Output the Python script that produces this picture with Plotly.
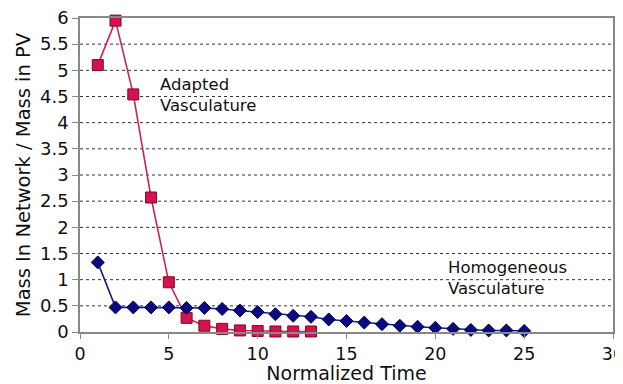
import plotly.graph_objects as go

# Data
adapted_t = [1, 2, 3, 4, 5, 6, 7, 8, 9, 10, 11, 12, 13]
adapted_v = [5.1, 5.95, 4.54, 2.57, 0.95, 0.27, 0.12, 0.06, 0.03, 0.02, 0.01, 0.01, 0.01]

homog_t = list(range(1, 26))
homog_v = [1.33, 0.47, 0.47, 0.47, 0.47, 0.46, 0.46, 0.44, 0.41, 0.38, 0.34, 0.31, 0.29,
           0.24, 0.21, 0.18, 0.15, 0.12, 0.10, 0.08, 0.06, 0.04, 0.03, 0.03, 0.02]

x_ticks = [0, 5, 10, 15, 20, 25, 30]
y_ticks = [0, 0.5, 1, 1.5, 2, 2.5, 3, 3.5, 4, 4.5, 5, 5.5, 6]
y_ticklabels = ["0", "0.5", "1", "1.5", "2", "2.5", "3", "3.5", "4", "4.5", "5", "5.5", "6"]

FONT = "DejaVu Sans, Liberation Sans, Arial, sans-serif"
TXT = "#111111"

fig = go.Figure()

# dotted gridlines (below data)
for yv in y_ticks[1:-1]:
    fig.add_shape(type="line", xref="paper", yref="y", x0=0, x1=1, y0=yv, y1=yv,
                  line=dict(color="#333333", width=1, dash="dot"), layer="below")

fig.add_trace(go.Scatter(
    x=adapted_t, y=adapted_v, mode="lines+markers",
    line=dict(color="#c8265a", width=1.6),
    marker=dict(symbol="square", size=11, color="#d3124e",
                line=dict(color="#7a0a28", width=1)),
    showlegend=False, cliponaxis=False,
))
fig.add_trace(go.Scatter(
    x=homog_t, y=homog_v, mode="lines+markers",
    line=dict(color="#1c1c86", width=1.6),
    marker=dict(symbol="diamond", size=10, color="#0a0a80",
                line=dict(color="#000050", width=1)),
    showlegend=False, cliponaxis=False,
))

fig.add_annotation(x=4.4, y=4.52, xref="x", yref="y", text="Adapted<br>Vasculature",
                   showarrow=False, xanchor="left", yanchor="middle", align="left",
                   font=dict(family=FONT, size=16.5, color=TXT))
fig.add_annotation(x=20.6, y=1.04, xref="x", yref="y", text="Homogeneous<br>Vasculature",
                   showarrow=False, xanchor="left", yanchor="middle", align="left",
                   font=dict(family=FONT, size=16.5, color=TXT))

fig.update_xaxes(
    range=[0, 30], tickvals=x_ticks, ticktext=[str(v) for v in x_ticks],
    showgrid=False, zeroline=False, automargin=False,
    showline=True, linecolor="#888888", linewidth=1.5, mirror=True,
    ticks="outside", ticklen=5, tickcolor="#888888",
    tickfont=dict(family=FONT, size=17.5, color=TXT), ticklabeloverflow="allow",
    title=dict(text="Normalized Time", font=dict(family=FONT, size=19, color=TXT), standoff=0),
)
fig.update_yaxes(
    range=[0, 6], tickvals=y_ticks, ticktext=y_ticklabels,
    showgrid=False, zeroline=False, automargin=False,
    showline=True, linecolor="#888888", linewidth=1.5, mirror=True,
    ticks="outside", ticklen=6, tickcolor="#888888",
    tickfont=dict(family=FONT, size=18, color=TXT), ticklabeloverflow="allow",
    title=dict(text="Mass In Network / Mass in PV", font=dict(family=FONT, size=19.5, color=TXT), standoff=4),
)

# The page has an 8px body margin, so the figure is 8px smaller on each axis
fig.update_layout(
    width=615, height=376,
    margin=dict(l=72, r=10, t=10, b=52),
    paper_bgcolor="white", plot_bgcolor="white",
    font=dict(family=FONT),
)

fig.write_html("out.html")
